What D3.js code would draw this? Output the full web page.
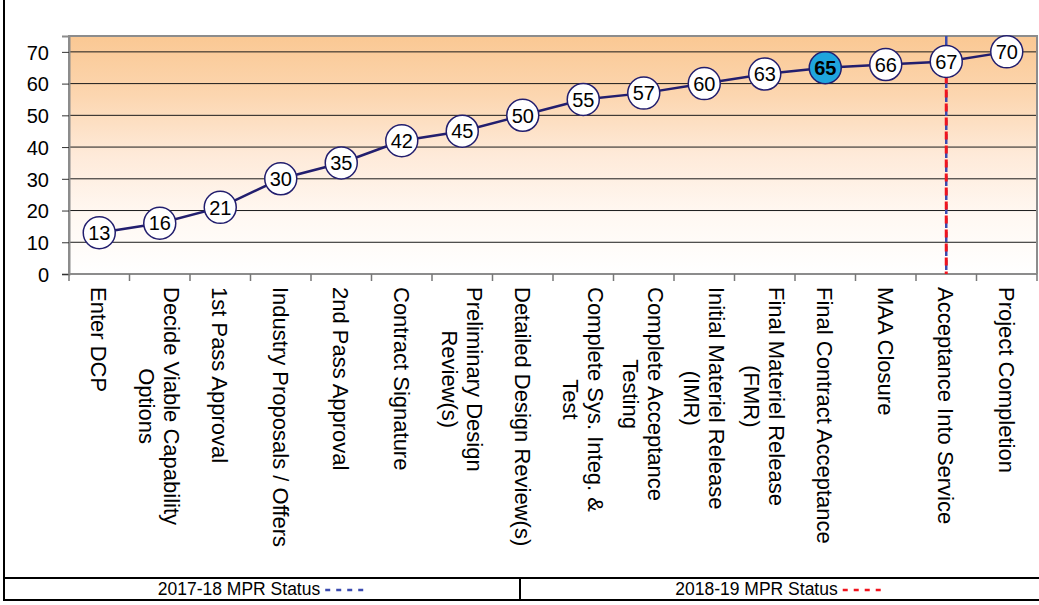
<!DOCTYPE html>
<html>
<head>
<meta charset="utf-8">
<script src="https://cdn.jsdelivr.net/npm/d3@7"></script>
<style>
    body { margin: 0; background: #fff; }
    svg { display: block; font-family: "Liberation Sans", Arial, sans-serif; }
</style>
</head>
<body>
<div id="chart"></div>
<script>
// Stages along the x axis (line breaks as in the original)
var stages = [
    ["Enter DCP"],
    ["Decide Viable Capability", "Options"],
    ["1st Pass Approval"],
    ["Industry Proposals / Offers"],
    ["2nd Pass Approval"],
    ["Contract Signature"],
    ["Preliminary Design", "Review(s)"],
    ["Detailed Design Review(s)"],
    ["Complete Sys. Integ. &", "Test"],
    ["Complete Acceptance", "Testing"],
    ["Initial Materiel Release", "(IMR)"],
    ["Final Materiel Release", "(FMR)"],
    ["Final Contract Acceptance"],
    ["MAA Closure"],
    ["Acceptance Into Service"],
    ["Project Completion"]
];

// Score at each stage
var scores = [13, 16, 21, 30, 35, 42, 45, 50, 55, 57, 60, 63, 65, 66, 67, 70];

// Stage that is highlighted
var currentStage = 12;

var yTicks = [0, 10, 20, 30, 40, 50, 60, 70];

// MPR status lines: which stage, and the score range they span
var statusNames = ["2017-18 MPR Status", "2018-19 MPR Status"];
var statusColors = ["#3B4BB0", "#F0141E"];
var statusStage = [14, 14];
var statusFrom = [75, 67];
var statusTo = [0, 0];

// Sizes
var svgWidth = 1039;
var svgHeight = 605;
var margins = { top: 36, bottom: 331, left: 69, right: 2 };
var width = svgWidth - margins.left - margins.right;
var height = svgHeight - margins.top - margins.bottom;

var svg = d3.select("#chart")
    .append("svg")
    .attr("width", svgWidth)
    .attr("height", svgHeight);

// Background gradient (orange at the top, white at the bottom)
var defs = svg.append("defs");
var grad = defs.append("linearGradient")
    .attr("id", "bg")
    .attr("x1", 0).attr("y1", 0)
    .attr("x2", 0).attr("y2", 1);
grad.append("stop").attr("offset", "0%").attr("stop-color", "#FAC893");
grad.append("stop").attr("offset", "25%").attr("stop-color", "#FCD6B0");
grad.append("stop").attr("offset", "50%").attr("stop-color", "#FEEAD9");
grad.append("stop").attr("offset", "75%").attr("stop-color", "#FFF8F2");
grad.append("stop").attr("offset", "100%").attr("stop-color", "#FFFFFF");

var g = svg.append("g")
    .attr("transform", "translate(" + margins.left + "," + margins.top + ")");

// Scales
var x = d3.scaleBand()
    .domain(d3.range(stages.length))
    .range([0, width])
    .padding(0);
var y = d3.scaleLinear()
    .domain([0, 75])
    .range([height, 0]);

function cx(i) { return x(i) + x.bandwidth() / 2; }

// Plot area
g.append("rect")
    .attr("width", width)
    .attr("height", height)
    .attr("fill", "url(#bg)");

// Gridlines
g.selectAll(".grid")
    .data(yTicks.filter(d => d > 0))
    .enter()
    .append("line")
    .attr("x1", 0).attr("x2", width)
    .attr("y1", d => y(d)).attr("y2", d => y(d))
    .attr("stroke", "#1a1a1a")
    .attr("stroke-width", 1);

// Plot border
g.append("path")
    .attr("d", "M0," + height + "V0H" + width + "V" + height)
    .attr("fill", "none")
    .attr("stroke", "#8c8c8c")
    .attr("stroke-width", 2);

// Y axis
var yAxis = g.append("g")
    .call(d3.axisLeft(y).tickValues(yTicks).tickSize(7).tickPadding(13));
yAxis.select(".domain").attr("stroke", "#8c8c8c").attr("stroke-width", 2);
yAxis.selectAll(".tick line").attr("stroke", "#333");
yAxis.selectAll(".tick text")
    .attr("font-size", 20)
    .attr("font-family", "Liberation Sans, Arial, sans-serif")
    .attr("fill", "#000")
    .attr("dy", "0.36em");

// X axis with ticks at stage boundaries
var xAxis = g.append("g")
    .attr("transform", "translate(0," + height + ")");
xAxis.append("line")
    .attr("x1", 0).attr("x2", width)
    .attr("stroke", "#8c8c8c")
    .attr("stroke-width", 2);
xAxis.selectAll(".xtick")
    .data(d3.range(stages.length + 1))
    .enter()
    .append("line")
    .attr("x1", d => d * x.bandwidth())
    .attr("x2", d => d * x.bandwidth())
    .attr("y1", 0).attr("y2", 7)
    .attr("stroke", "#777")
    .attr("stroke-width", 1.5);

// Rotated stage labels
var labelSize = 22;
var lineGap = 25;
var capH = labelSize * 0.716;
var labels = xAxis.selectAll(".xlabel")
    .data(stages)
    .enter()
    .append("text")
    .attr("font-size", labelSize)
    .attr("fill", "#000")
    .attr("transform", (d, i) => "translate(" + cx(i) + ",13) rotate(90)");

labels.each(function (lines) {
    var t = d3.select(this);
    var n = lines.length;
    var spans = lines.map(function (s, k) {
        return t.append("tspan")
            .attr("y", -((n - 1) / 2 - k) * lineGap + capH / 2)
            .text(s);
    });
    var maxLen = d3.max(spans, s => s.node().getComputedTextLength());
    spans.forEach(function (s) {
        s.attr("x", maxLen / 2).attr("text-anchor", "middle");
    });
});

// Status lines
statusNames.forEach(function (name, k) {
    g.append("line")
        .attr("x1", cx(statusStage[k])).attr("x2", cx(statusStage[k]))
        .attr("y1", y(statusFrom[k])).attr("y2", y(statusTo[k]))
        .attr("stroke", statusColors[k])
        .attr("stroke-width", k == 0 ? 2.5 : 3)
        .attr("stroke-dasharray", k == 0 ? "10,4" : "8,6");
});

// Score line
var line = d3.line()
    .x((d, i) => cx(i))
    .y(d => y(d));
g.append("path")
    .attr("d", line(scores))
    .attr("fill", "none")
    .attr("stroke", "#221E6E")
    .attr("stroke-width", 2.5);

// Markers with labels
var marks = g.selectAll(".mark")
    .data(scores)
    .enter()
    .append("g")
    .attr("transform", (d, i) => "translate(" + cx(i) + "," + y(d) + ")");
marks.append("circle")
    .attr("r", 16)
    .attr("fill", (d, i) => i == currentStage ? "#1FA5DE" : "#fff")
    .attr("stroke", "#221E6E")
    .attr("stroke-width", 1.5);
marks.append("text")
    .attr("text-anchor", "middle")
    .attr("dy", "0.36em")
    .attr("font-size", 20)
    .attr("font-weight", (d, i) => i == currentStage ? "bold" : "normal")
    .attr("fill", "#000")
    .text(d => d);

// Outer frame and status table
var frame = svg.append("g")
    .attr("stroke", "#000")
    .attr("stroke-width", 2);
frame.append("line").attr("x1", 4).attr("x2", 4).attr("y1", 0).attr("y2", 601);
frame.append("line").attr("x1", 4).attr("x2", svgWidth).attr("y1", 578).attr("y2", 578);
frame.append("line").attr("x1", 4).attr("x2", svgWidth).attr("y1", 600).attr("y2", 600);
frame.append("line").attr("x1", 520).attr("x2", 520).attr("y1", 578).attr("y2", 600);

var cellEdges = [4, 520, svgWidth];
statusNames.forEach(function (name, k) {
    var cell = svg.append("g");
    var txt = cell.append("text")
        .attr("font-size", 17.5)
        .attr("fill", "#000")
        .attr("y", 595)
        .text(name);
    var len = txt.node().getComputedTextLength();
    var dashLen = 42;
    var total = len + 4 + dashLen;
    var start = (cellEdges[k] + cellEdges[k + 1]) / 2 - total / 2;
    txt.attr("x", start);
    cell.append("line")
        .attr("x1", start + len + 5)
        .attr("x2", start + len + 5 + dashLen)
        .attr("y1", 590).attr("y2", 590)
        .attr("stroke", statusColors[k])
        .attr("stroke-width", 2.5)
        .attr("stroke-dasharray", "5,6");
});
</script>
</body>
</html>
